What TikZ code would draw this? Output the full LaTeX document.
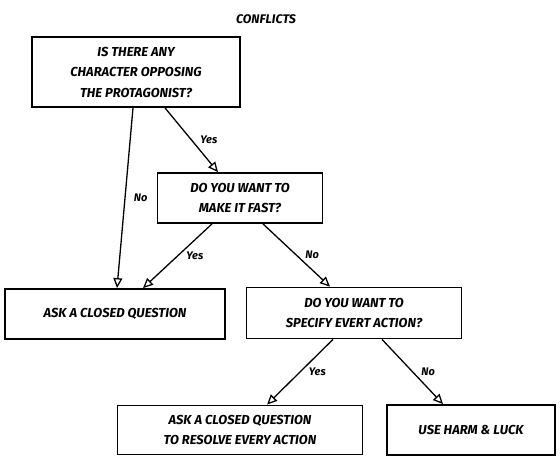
\documentclass[tikz,border=0pt]{standalone}
\usepackage{fontspec}
\setmainfont{Fira Sans}
\usepackage{tikz}
\usetikzlibrary{arrows.meta,positioning}

\tikzset{
  box/.style={draw, line width=1.8pt, fill=white, align=center,
    font=\bfseries\itshape\fontsize{13}{20.5}\selectfont, inner sep=0pt},
  lbl/.style={font=\bfseries\itshape\fontsize{11}{12}\selectfont, right=5pt},
  arr/.style={line width=1.3pt, -{Triangle[open, length=10pt, width=9pt]}}
}

\begin{document}
\begin{tikzpicture}[x=1pt,y=-1pt]
  \useasboundingbox (0,0) rectangle (560,461);
  \node [font=\bfseries\itshape\fontsize{12.5}{14}\selectfont] (title) at (266,19) {CONFLICTS};

  % questions and answers
  \node [box, minimum width=208pt, minimum height=70pt] (opp) at (136,72)
    {IS THERE ANY\\CHARACTER OPPOSING\\THE PROTAGONIST?};
  \node [box, minimum width=165pt, minimum height=50pt] (fast) at (240,198)
    {DO YOU WANT TO\\MAKE IT FAST?};
  \node [box, minimum width=220pt, minimum height=50pt] (closed) at (115,314)
    {ASK A CLOSED QUESTION};
  \node [box, minimum width=215pt, minimum height=51pt] (every) at (354,313)
    {DO YOU WANT TO\\SPECIFY EVERT ACTION?};
  \node [box, minimum width=245pt, minimum height=49pt] (resolve) at (240,430)
    {ASK A CLOSED QUESTION\\TO RESOLVE EVERY ACTION};
  \node [box, minimum width=168pt, minimum height=50pt] (harm) at (471,430)
    {USE HARM \& LUCK};

  % arrows
  \draw [arr] ([xshift=-3pt]opp.south) -- node[midway, lbl]{No} ([xshift=2pt]closed.north);
  \draw [arr] ([xshift=29pt]opp.south) -- node[midway, lbl]{Yes} ([xshift=-22pt]fast.north);
  \draw [arr] ([xshift=-28pt]fast.south) -- node[midway, lbl]{Yes} ([xshift=28pt]closed.north);
  \draw [arr] ([xshift=23pt]fast.south) -- node[midway, lbl]{No} ([xshift=-24pt]every.north);
  \draw [arr] ([xshift=-21pt]every.south) -- node[midway, lbl]{Yes} ([xshift=27pt]resolve.north);
  \draw [arr] ([xshift=28pt]every.south) -- node[midway, lbl]{No} ([xshift=-28pt]harm.north);
\end{tikzpicture}
\end{document}
